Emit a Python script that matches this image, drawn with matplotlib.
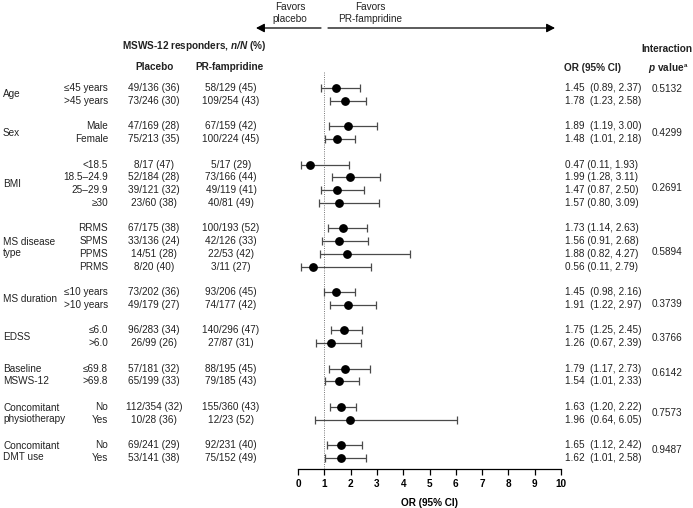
import matplotlib
matplotlib.use("Agg")
import matplotlib.pyplot as plt
import matplotlib.transforms as mtransforms

plt.rcParams['font.family'] = ['Liberation Sans', 'DejaVu Sans']
plt.rcParams['mathtext.fontset'] = 'custom'
plt.rcParams['mathtext.rm'] = 'Liberation Sans'
plt.rcParams['mathtext.it'] = 'Liberation Sans:italic'
plt.rcParams['mathtext.bf'] = 'Liberation Sans:bold'
plt.rcParams['mathtext.bfit'] = 'Liberation Sans:italic:bold'

# ---------------- data ----------------
groups = ["Age", "Sex", "BMI", "MS disease\ntype", "MS duration", "EDSS",
          "Baseline\nMSWS-12", "Concomitant\nphysiotherapy", "Concomitant\nDMT use"]
subgroups = [
    ["≤45 years", ">45 years"],
    ["Male", "Female"],
    ["<18.5", "18.5–24.9", "25–29.9", "≥30"],
    ["RRMS", "SPMS", "PPMS", "PRMS"],
    ["≤10 years", ">10 years"],
    ["≤6.0", ">6.0"],
    ["≤69.8", ">69.8"],
    ["No", "Yes"],
    ["No", "Yes"],
]
placebo = ["49/136 (36)", "73/246 (30)", "47/169 (28)", "75/213 (35)",
           "8/17 (47)", "52/184 (28)", "39/121 (32)", "23/60 (38)",
           "67/175 (38)", "33/136 (24)", "14/51 (28)", "8/20 (40)",
           "73/202 (36)", "49/179 (27)", "96/283 (34)", "26/99 (26)",
           "57/181 (32)", "65/199 (33)", "112/354 (32)", "10/28 (36)",
           "69/241 (29)", "53/141 (38)"]
fampridine = ["58/129 (45)", "109/254 (43)", "67/159 (42)", "100/224 (45)",
              "5/17 (29)", "73/166 (44)", "49/119 (41)", "40/81 (49)",
              "100/193 (52)", "42/126 (33)", "22/53 (42)", "3/11 (27)",
              "93/206 (45)", "74/177 (42)", "140/296 (47)", "27/87 (31)",
              "88/195 (45)", "79/185 (43)", "155/360 (43)", "12/23 (52)",
              "92/231 (40)", "75/152 (49)"]
odds = [1.45, 1.78, 1.89, 1.48, 0.47, 1.99, 1.47, 1.57, 1.73, 1.56, 1.88, 0.56,
        1.45, 1.91, 1.75, 1.26, 1.79, 1.54, 1.63, 1.96, 1.65, 1.62]
ci_low = [0.89, 1.23, 1.19, 1.01, 0.11, 1.28, 0.87, 0.80, 1.14, 0.91, 0.82, 0.11,
          0.98, 1.22, 1.25, 0.67, 1.17, 1.01, 1.20, 0.64, 1.12, 1.01]
ci_high = [2.37, 2.58, 3.00, 2.18, 1.93, 3.11, 2.50, 3.09, 2.63, 2.68, 4.27, 2.79,
           2.16, 2.97, 2.45, 2.39, 2.73, 2.33, 2.22, 6.05, 2.42, 2.58]
or_text = ["1.45  (0.89, 2.37)", "1.78  (1.23, 2.58)", "1.89  (1.19, 3.00)",
           "1.48  (1.01, 2.18)", "0.47 (0.11, 1.93)", "1.99 (1.28, 3.11)",
           "1.47 (0.87, 2.50)", "1.57 (0.80, 3.09)", "1.73 (1.14, 2.63)",
           "1.56 (0.91, 2.68)", "1.88 (0.82, 4.27)", "0.56 (0.11, 2.79)",
           "1.45  (0.98, 2.16)", "1.91  (1.22, 2.97)", "1.75  (1.25, 2.45)",
           "1.26  (0.67, 2.39)", "1.79  (1.17, 2.73)", "1.54  (1.01, 2.33)",
           "1.63  (1.20, 2.22)", "1.96  (0.64, 6.05)", "1.65  (1.12, 2.42)",
           "1.62  (1.01, 2.58)"]
p_values = ["0.5132", "0.4299", "0.2691", "0.5894", "0.3739", "0.3766",
            "0.6142", "0.7573", "0.9487"]
x_ticks = [0, 1, 2, 3, 4, 5, 6, 7, 8, 9, 10]

# ---------------- layout ----------------
W, H = 693, 508
fig = plt.figure(figsize=(W / 100, H / 100), dpi=100)

def fx(px):
    return px / W

def fy(py):
    return 1 - py / H

row0_px, row_h = 88.0, 12.76
top_px, axis_px = 72.0, 469.0
ax = fig.add_axes([fx(298), fy(axis_px), fx(561) - fx(298), (axis_px - top_px) / H])
ax.set_xlim(0, 10)
ax.set_ylim((axis_px - row0_px) / row_h, (top_px - row0_px) / row_h)

rows = []
group_centers = []
r = 0
for subs in subgroups:
    idx = list(range(r, r + len(subs)))
    rows.extend(idx)
    group_centers.append((idx[0] + idx[-1]) / 2)
    r += len(subs) + 1
sub_labels = [s for subs in subgroups for s in subs]

TXT = "#222222"
FS = 7.2

# forest plot
ax.axvline(1, color="#666666", lw=0.6, ls=(0, (1.2, 1.5)))
err_lo = [o - l for o, l in zip(odds, ci_low)]
err_hi = [h - o for o, h in zip(odds, ci_high)]
ax.errorbar(odds, rows, xerr=[err_lo, err_hi], fmt="none", ecolor="#4a4a4a",
            elinewidth=0.9, capsize=3.0, capthick=0.9)
ax.plot(odds, rows, "o", color="black", markersize=5.3, ls="none")

for s in ["top", "right", "left"]:
    ax.spines[s].set_visible(False)
ax.spines["bottom"].set_linewidth(0.9)
ax.set_yticks([])
ax.set_xticks(x_ticks)
ax.tick_params(axis="x", length=4, width=0.9, pad=3, labelsize=FS)
for lab in ax.get_xticklabels():
    lab.set_fontweight("bold")
ax.set_xlabel("OR (95% CI)", fontsize=FS, fontweight="bold", labelpad=7)

# text columns
tr = mtransforms.blended_transform_factory(fig.transFigure, ax.transData)
for g, c in zip(groups, group_centers):
    fig.text(fx(3), c, g, transform=tr, ha="left", va="center", fontsize=FS,
             color=TXT, linespacing=1.2)
for i, y in enumerate(rows):
    fig.text(fx(108), y, sub_labels[i], transform=tr, ha="right", va="center",
             fontsize=FS, color=TXT)
    fig.text(fx(154), y, placebo[i], transform=tr, ha="center", va="center",
             fontsize=FS, color=TXT)
    fig.text(fx(231), y, fampridine[i], transform=tr, ha="center", va="center",
             fontsize=FS, color=TXT)
    fig.text(fx(565), y, or_text[i], transform=tr, ha="left", va="center",
             fontsize=FS, color=TXT)
p_offset = [-0.4, 0.0, 0.35, 0.35, 0.4, 0.1, -0.2, 0.0, -0.1]
for p, c, o in zip(p_values, group_centers, p_offset):
    fig.text(fx(667), c + o, p, transform=tr, ha="center", va="center",
             fontsize=FS, color=TXT)

# headers
fig.text(fx(194), fy(46), "MSWS-12 responders, $\\mathbfit{n/N}$ (%)",
         ha="center", va="center", fontsize=FS, fontweight="bold", color=TXT)
fig.text(fx(155), fy(67), "Placebo", ha="center", va="center", fontsize=FS,
         fontweight="bold", color=TXT)
fig.text(fx(230), fy(67), "PR-fampridine", ha="center", va="center", fontsize=FS,
         fontweight="bold", color=TXT)
fig.text(fx(593), fy(68), "OR (95% CI)", ha="center", va="center", fontsize=FS,
         fontweight="bold", color=TXT)
fig.text(fx(667), fy(49), "Interaction", ha="center", va="center", fontsize=FS,
         fontweight="bold", color=TXT)
fig.text(fx(666), fy(68), "$\\mathbfit{p}$ value", ha="center",
         va="center", fontsize=FS, fontweight="bold", color=TXT)
fig.text(fx(684), fy(65.5), "a", ha="left", va="center", fontsize=4.5,
         fontweight="bold", color=TXT)

# favors arrows
fig.text(fx(290), fy(12.5), "Favors\nplacebo", ha="center", va="center",
         fontsize=FS, color=TXT, linespacing=1.25)
fig.text(fx(370), fy(12.5), "Favors\nPR-fampridine", ha="center", va="center",
         fontsize=FS, color=TXT, linespacing=1.25)
fig.patches.append(matplotlib.patches.FancyArrowPatch(
    (fx(321), fy(28)), (fx(256), fy(28)), transform=fig.transFigure,
    arrowstyle="-|>,head_length=5,head_width=2.6", color="black", lw=0.9,
    shrinkA=0, shrinkB=0))
fig.patches.append(matplotlib.patches.FancyArrowPatch(
    (fx(328), fy(28)), (fx(555), fy(28)), transform=fig.transFigure,
    arrowstyle="-|>,head_length=5,head_width=2.6", color="black", lw=0.9,
    shrinkA=0, shrinkB=0))

fig.savefig("out.png", dpi=100)
